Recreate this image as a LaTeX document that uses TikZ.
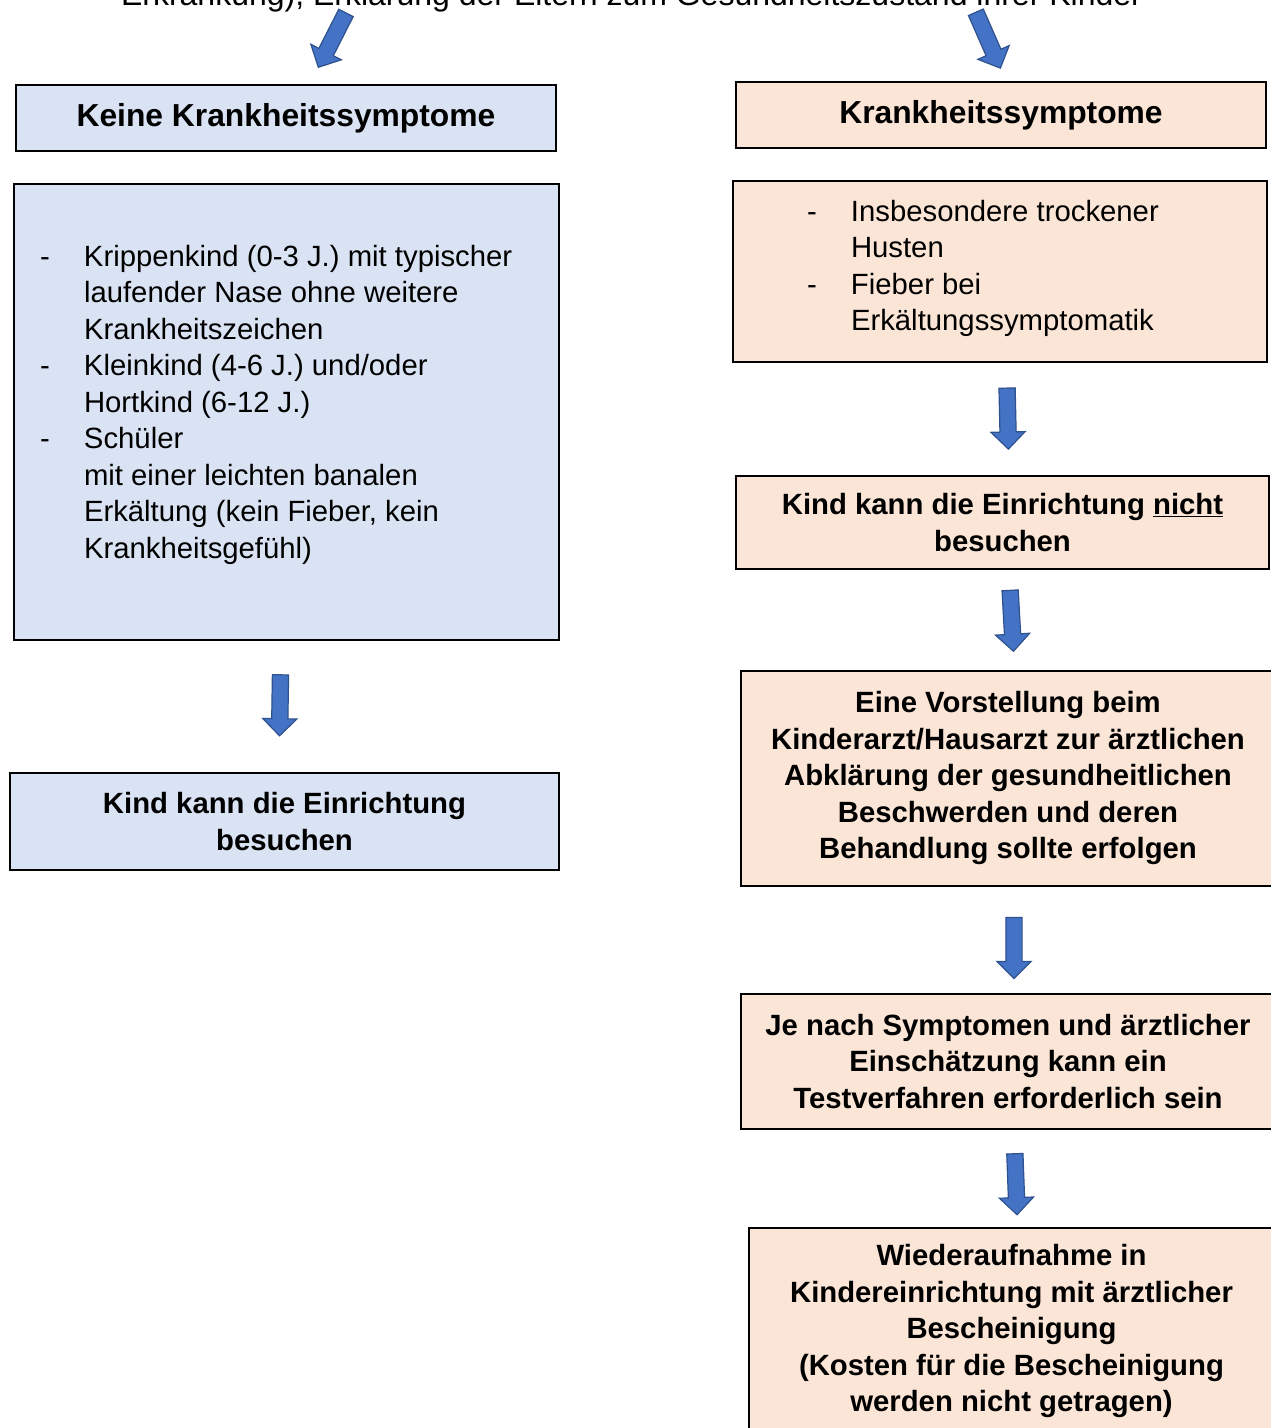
\documentclass[tikz,border=0pt]{standalone}
\usepackage{fontspec}
\setmainfont{Liberation Sans}
\usepackage{tikz}
\usetikzlibrary{shapes.arrows, positioning, calc}

\definecolor{hellblau}{HTML}{DAE3F3}
\definecolor{hellrot}{HTML}{FBE5D6}
\definecolor{pfeilblau}{HTML}{4472C4}
\definecolor{pfeilrand}{HTML}{2F528F}

\newcommand{\txt}{\fontsize{29.3}{36.5}\selectfont}
\newcommand{\kopf}{\fontsize{31.8}{38}\selectfont\bfseries}

\tikzset{
  kasten/.style={rectangle, draw=black, line width=2pt, inner sep=0pt, align=center},
  blau/.style={kasten, fill=hellblau},
  rot/.style={kasten, fill=hellrot},
  pfeil/.style={single arrow, draw=pfeilrand, fill=pfeilblau, line width=1.2pt,
    minimum height=61pt, minimum width=33pt, single arrow head extend=9pt,
    inner xsep=0pt, inner ysep=7.5pt, sloped, allow upside down}
}

\begin{document}
\begin{tikzpicture}[x=1pt,y=-1pt]
\useasboundingbox (0,0) rectangle (1271,1428);

\node[anchor=base,font=\fontsize{32}{38}\selectfont] (titel) at (631.5,5) {Erkrankung), Erkl\"arung der Eltern zum Gesundheitszustand ihrer Kinder};

% linke Spalte
\node[blau,minimum width=540pt,minimum height=66pt,font=\kopf] (kopfL) at (286,118) {Keine Krankheitssymptome};
\node[blau,minimum width=545pt,minimum height=456pt,font=\txt] (listeL) at (286.5,412) {\raisebox{7pt}[\height][\depth]{%
\begin{tabular}{@{}p{44pt}@{}p{449pt}@{}}
- & Krippenkind (0-3 J.) mit typischer\\
  & laufender Nase ohne weitere\\
  & Krankheitszeichen\\
- & Kleinkind (4-6 J.) und/oder\\
  & Hortkind (6-12 J.)\\
- & Sch\"uler\\
  & mit einer leichten banalen\\
  & Erk\"altung (kein Fieber, kein\\
  & Krankheitsgef\"uhl)
\end{tabular}}};
\node[blau,minimum width=549pt,minimum height=97pt,font=\txt\bfseries] (zielL) at (284.5,821.5) {Kind kann die Einrichtung\\besuchen};

% rechte Spalte
\node[rot,minimum width=530pt,minimum height=66pt,font=\kopf] (kopfR) at (1001,115) {Krankheitssymptome};
\node[rot,minimum width=534pt,minimum height=181pt,font=\txt] (listeR) at (1000,271.5) {\raisebox{3pt}[\height][\depth]{%
\begin{tabular}{@{}p{44pt}@{}p{342pt}@{}}
- & Insbesondere trockener\\
  & Husten\\
- & Fieber bei\\
  & Erk\"altungssymptomatik
\end{tabular}}};
\node[rot,minimum width=533pt,minimum height=93pt,font=\txt\bfseries] (nichtR) at (1002.5,522.5) {Kind kann die Einrichtung \underline{nicht}\\besuchen};
\node[rot,minimum width=534pt,minimum height=215pt,font=\txt\bfseries] (arzt) at (1008,778) {Eine Vorstellung beim\\Kinderarzt/Hausarzt zur \"arztlichen\\Abkl\"arung der gesundheitlichen\\Beschwerden und deren\\Behandlung sollte erfolgen};
\node[rot,minimum width=534pt,minimum height=135pt,font=\txt\bfseries] (test) at (1008,1061.5) {Je nach Symptomen und \"arztlicher\\Einsch\"atzung kann ein\\Testverfahren erforderlich sein};
\node[rot,minimum width=525pt,minimum height=207pt,font=\txt\bfseries] (wieder) at (1011.5,1331) {Wiederaufnahme in\\Kindereinrichtung mit \"arztlicher\\Bescheinigung\\(Kosten f\"ur die Bescheinigung\\werden nicht getragen)};

% Pfeile
\coordinate (sL) at (348,9);
\coordinate (eL) at (320,64);
\coordinate (sR) at (974,8);
\coordinate (eR) at (999,65);
\path (sL) -- node[pfeil] (pTL) {} (eL);
\path (sR) -- node[pfeil] (pTR) {} (eR);
\path ([xshift=-5.5pt]listeL.south) -- node[pfeil,pos=.46] (pL) {} ([xshift=-5.5pt]zielL.north);
\path ([xshift=6.5pt]listeR.south) -- node[pfeil,pos=.46] (p1) {} ([xshift=6.5pt]nichtR.north);
\path ([xshift=6.5pt]nichtR.south) -- node[pfeil,pos=.47] (p2) {} ([xshift=6.5pt]arzt.north);
\path ([xshift=6pt]arzt.south) -- node[pfeil,pos=.54] (p3) {} ([xshift=6pt]test.north);
\path ([xshift=6pt]test.south) -- node[pfeil,pos=.52] (p4) {} ([xshift=6pt]wieder.north);

\end{tikzpicture}
\end{document}
